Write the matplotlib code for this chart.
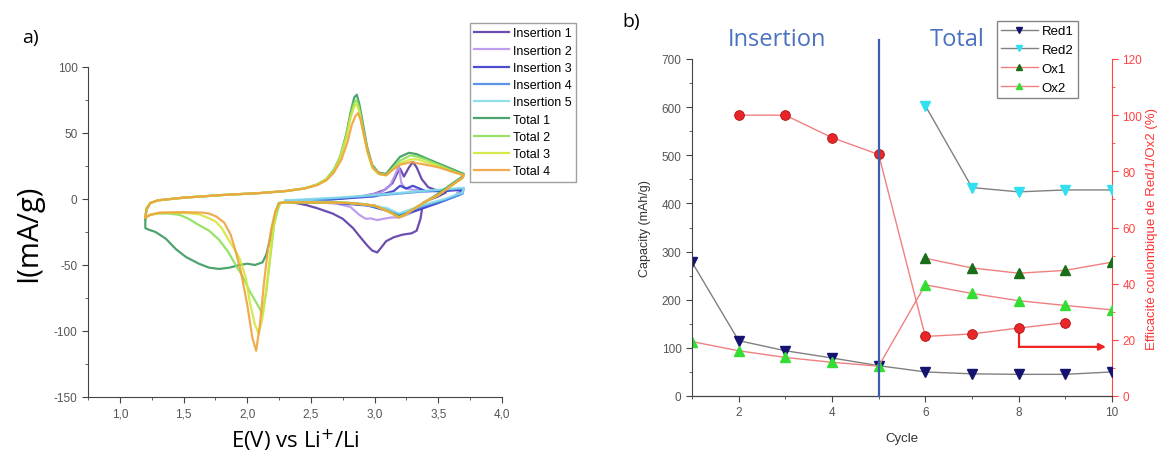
import matplotlib
matplotlib.use("Agg")
import matplotlib.pyplot as plt
from matplotlib.ticker import MultipleLocator, FuncFormatter

plt.rcParams['font.family'] = ['Liberation Sans', 'DejaVu Sans']

# ---------------- Panel a) : cyclic voltammograms ----------------
ins1_E = [2.30, 2.50, 2.70, 2.90, 3.00, 3.08, 3.14, 3.18, 3.20, 3.23, 3.27, 3.30, 3.33, 3.37, 3.42, 3.50, 3.56,
          3.50, 3.42, 3.38, 3.36, 3.33, 3.29, 3.22, 3.15, 3.09, 3.05, 3.02, 2.98, 2.94, 2.88, 2.83, 2.75, 2.67,
          2.55, 2.46, 2.38, 2.30]
ins1_I = [-2, -1, 0, 2, 4, 7, 12, 20, 23, 17, 24, 28, 24, 15, 9, 6, 5,
          2, -1, -3, -15, -24, -26, -27, -29, -32, -37, -40.5, -39, -35, -28, -22, -15, -11,
          -7, -4.5, -3, -2]

ins2_E = [2.30, 2.60, 2.90, 3.05, 3.12, 3.16, 3.19, 3.21, 3.24, 3.30, 3.40, 3.50, 3.60, 3.66,
          3.64, 3.55, 3.45, 3.35, 3.25, 3.19, 3.13, 3.07, 3.02, 2.97, 2.93, 2.88, 2.81, 2.70, 2.55, 2.40, 2.30]
ins2_I = [-2, -0.5, 2, 5, 10, 18, 25, 12, 8, 7, 6, 6, 7, 7,
          3, -1, -4, -8, -12, -14, -14, -15, -16, -14.7, -15, -12, -6, -3.5, -2.5, -2, -2]

ins3_E = [2.30, 2.70, 3.00, 3.15, 3.20, 3.25, 3.30, 3.40, 3.55, 3.68,
          3.66, 3.50, 3.35, 3.22, 3.10, 2.95, 2.70, 2.30]
ins3_I = [-2, 0, 2, 6, 10, 8, 10, 6, 6, 7,
          3, -3, -8, -12, -9, -5, -3, -2]

ins4_E = [2.30, 2.70, 3.00, 3.30, 3.50, 3.70, 3.69, 3.55, 3.40, 3.25, 3.19, 3.10, 2.90, 2.60, 2.30]
ins4_I = [-1.5, 0.5, 2.5, 5, 6.5, 8, 4, -1, -5, -10, -12, -8, -4, -2.5, -1.5]

ins5_E = [2.30, 2.70, 3.00, 3.30, 3.50, 3.70, 3.69, 3.55, 3.40, 3.25, 3.19, 3.10, 2.90, 2.60, 2.30]
ins5_I = [-1, 1, 3, 5.5, 7, 8.5, 5, 0, -4, -9, -11, -7, -3.5, -2, -1]

tot1_E = [1.20, 1.21, 1.24, 1.30, 1.50, 1.80, 2.10, 2.30, 2.45, 2.55, 2.62, 2.68, 2.73, 2.78, 2.81, 2.84,
          2.86, 2.88, 2.91, 2.94, 2.98, 3.03, 3.09, 3.14, 3.20, 3.27, 3.33, 3.40, 3.50, 3.60, 3.70,
          3.69, 3.60, 3.50, 3.40, 3.30, 3.24, 3.19, 3.12, 3.00, 2.80, 2.50, 2.30, 2.25, 2.24, 2.22, 2.18,
          2.15, 2.12, 2.06, 2.00, 1.94, 1.86, 1.78, 1.70, 1.62, 1.52, 1.44, 1.36, 1.28, 1.22, 1.20, 1.20]
tot1_I = [-15, -8, -3, -1, 1, 3, 4.5, 6, 8, 11, 15, 22, 32, 50, 65, 77,
          79, 72, 56, 40, 26, 20, 19, 25, 32, 35, 34, 31, 27, 23, 19,
          17, 11, 4, -2, -8, -12, -13, -10, -5, -3, -2.5, -2.5, -3, -5, -12, -30,
          -42, -48, -50, -49, -50, -52, -53, -52, -49, -44, -38, -30, -25, -23, -22, -15]

tot2_E = [1.20, 1.21, 1.24, 1.30, 1.50, 1.80, 2.10, 2.30, 2.45, 2.55, 2.62, 2.68, 2.73, 2.78, 2.81, 2.84,
          2.86, 2.88, 2.91, 2.94, 2.98, 3.03, 3.09, 3.14, 3.20, 3.28, 3.34, 3.40, 3.50, 3.60, 3.70,
          3.69, 3.60, 3.50, 3.40, 3.30, 3.24, 3.19, 3.12, 3.00, 2.80, 2.50, 2.30, 2.26, 2.24, 2.21, 2.18,
          2.15, 2.12, 2.08, 2.02, 1.96, 1.91, 1.85, 1.78, 1.70, 1.62, 1.54, 1.47, 1.38, 1.30, 1.24, 1.20]
tot2_I = [-14, -7, -3, -1, 1, 3, 4.5, 6, 8, 11, 15, 22, 32, 49, 63, 73,
          75, 68, 53, 38, 25, 19, 18, 23, 29, 33, 32, 30, 26, 22, 18,
          16, 10, 3, -2, -8, -12, -14, -10, -5, -3, -2.5, -2.5, -3, -8, -20, -45,
          -70, -87, -80, -70, -58, -50, -40, -31, -24, -19.7, -15, -12, -11, -11, -12, -14]

tot3_E = [1.20, 1.21, 1.24, 1.30, 1.50, 1.80, 2.10, 2.30, 2.45, 2.55, 2.62, 2.68, 2.73, 2.78, 2.81, 2.84,
          2.86, 2.88, 2.91, 2.94, 2.98, 3.03, 3.09, 3.14, 3.20, 3.28, 3.34, 3.40, 3.50, 3.60, 3.70,
          3.69, 3.60, 3.50, 3.40, 3.30, 3.24, 3.19, 3.12, 3.00, 2.80, 2.50, 2.30, 2.26, 2.23, 2.20, 2.16,
          2.12, 2.09, 2.06, 2.02, 1.99, 1.94, 1.90, 1.86, 1.80, 1.75, 1.70, 1.62, 1.50, 1.35, 1.25, 1.20]
tot3_I = [-14, -7, -3, -1, 1, 3, 4.5, 6, 8, 11, 15, 21, 31, 47, 61, 70,
          72, 66, 51, 37, 24, 19, 18, 22, 27, 30, 30, 28, 25, 21, 18,
          16, 10, 3, -2, -8, -12, -14, -10, -5, -3, -2.5, -2.5, -3, -8, -25, -60,
          -90, -102, -95, -78, -60, -45, -38, -32, -22, -17, -14.6, -11.5, -10.5, -10.5, -11.5, -14]

tot4_E = [1.20, 1.21, 1.24, 1.30, 1.50, 1.80, 2.10, 2.30, 2.45, 2.55, 2.62, 2.68, 2.74, 2.79, 2.82, 2.85,
          2.87, 2.89, 2.92, 2.95, 2.99, 3.04, 3.09, 3.14, 3.20, 3.29, 3.34, 3.40, 3.50, 3.60, 3.70,
          3.69, 3.60, 3.50, 3.40, 3.30, 3.24, 3.19, 3.12, 3.00, 2.80, 2.50, 2.30, 2.25, 2.22, 2.19, 2.16,
          2.13, 2.10, 2.07, 2.04, 2.00, 1.95, 1.91, 1.87, 1.82, 1.76, 1.70, 1.65, 1.50, 1.31, 1.24, 1.20]
tot4_I = [-14, -7, -3, -1, 1, 3, 4.5, 6, 8, 10.5, 14, 20, 30, 44, 56, 63,
          65, 60, 47, 34, 23, 19, 18, 22, 26, 28, 27, 26, 24, 21, 18,
          16, 10, 3, -2, -8, -12, -14, -10, -5, -3, -2.5, -2.5, -3.3, -9.5, -22, -40,
          -65, -95, -115, -105, -80, -55, -40, -27, -18, -13.4, -11, -10.3, -10, -10.3, -12, -14]

cv_labels = ['Insertion 1', 'Insertion 2', 'Insertion 3', 'Insertion 4', 'Insertion 5',
             'Total 1', 'Total 2', 'Total 3', 'Total 4']
cv_E = [ins1_E, ins2_E, ins3_E, ins4_E, ins5_E, tot1_E, tot2_E, tot3_E, tot4_E]
cv_I = [ins1_I, ins2_I, ins3_I, ins4_I, ins5_I, tot1_I, tot2_I, tot3_I, tot4_I]
cv_colors = ['#5b3aa8', '#b794ec', '#3a3ac8', '#4a8ae6', '#86dcea',
             '#3a9a5c', '#8ce05a', '#d4e63c', '#f0a23e']

# ---------------- Panel b) : capacities per cycle ----------------
cycles = [1, 2, 3, 4, 5, 6, 7, 8, 9, 10]
red1 = [278, 115, 94, 79, 63, 50, 46, 45, 45, 50]
red2_cycles = [6, 7, 8, 9, 10]
red2 = [603, 433, 424, 428, 428]
ox1_cycles = [6, 7, 8, 9, 10]
ox1 = [286, 266, 255, 261, 278]
ox2 = [113, 94, 80, 70, 62, 231, 213, 198, 188, 179]
eff_cycles = [2, 3, 4, 5, 6, 7, 8, 9]
eff = [100, 100, 92, 86, 21.2, 22.1, 24.2, 26.1]

W, H = 1159, 456
fig = plt.figure(figsize=(W / 100, H / 100), dpi=100)

def fbox(x0, y0, x1, y1):
    return [x0 / W, 1 - y1 / H, (x1 - x0) / W, (y1 - y0) / H]

# ---- panel a
ax = fig.add_axes(fbox(88, 68, 502, 398))
for E, I, c, lab in zip(cv_E, cv_I, cv_colors, cv_labels):
    ax.plot(E, I, color=c, lw=1.6, label=lab, alpha=0.9, solid_joinstyle='round')
ax.set_xlim(0.75, 4.0)
ax.set_ylim(-150, 100)
ax.xaxis.set_major_locator(MultipleLocator(0.5))
ax.xaxis.set_minor_locator(MultipleLocator(0.25))
ax.yaxis.set_major_locator(MultipleLocator(50))
ax.yaxis.set_minor_locator(MultipleLocator(25))
ax.xaxis.set_major_formatter(FuncFormatter(lambda v, p: f"{v:.1f}".replace('.', ',')))
ax.yaxis.set_major_formatter(FuncFormatter(lambda v, p: f"{int(round(v))}"))
for s in ['top', 'right']:
    ax.spines[s].set_visible(False)
for s in ['left', 'bottom']:
    ax.spines[s].set_color('#444444')
ax.tick_params(which='major', direction='out', length=4, color='#444444', labelsize=8.5, labelcolor='#555555')
ax.tick_params(which='minor', direction='out', length=2.5, color='#444444')
ax.set_ylabel('I(mA/g)', fontsize=21, family=['Open Sans', 'DejaVu Sans'], labelpad=8)
ax.set_xlabel('E(V) vs Li$^{+}$/Li', fontsize=16, family=['Open Sans', 'DejaVu Sans'], labelpad=5)
leg = ax.legend(loc='upper left', bbox_to_anchor=(470 / W, 1 - 24 / H), bbox_transform=fig.transFigure,
                fontsize=9, frameon=True, fancybox=False, handlelength=2.8, handletextpad=0.3,
                labelspacing=0.42, borderpad=0.35, borderaxespad=0)
leg.get_frame().set_edgecolor('#888888')
leg.get_frame().set_linewidth(1.0)
fig.text(22 / W, 1 - 38 / H, 'a)', fontsize=14, family=['Open Sans', 'DejaVu Sans'], va='center')

# ---- panel b
bx = fig.add_axes(fbox(692, 60, 1112, 397))
bx2 = bx.twinx()
bx.set_zorder(bx2.get_zorder() + 1)
bx.patch.set_visible(False)

bx2.plot(eff_cycles, eff, color='#f08080', lw=1.0, marker='o', ms=7,
         mfc='#e8262a', mec='#b01010', mew=0.6, zorder=3)
bx2.plot([8, 8], [eff[6], 17.5], color='#ee2222', lw=1.6)
bx2.annotate('', xy=(9.93, 17.5), xytext=(7.98, 17.5),
             arrowprops=dict(arrowstyle='-|>', color='#ee2222', lw=1.6, mutation_scale=10))
bx2.set_ylim(0, 120)
bx2.set_xlim(1, 10)
bx2.yaxis.set_major_locator(MultipleLocator(20))
bx2.yaxis.set_minor_locator(MultipleLocator(10))
bx2.spines['right'].set_color('#ff4444')
bx2.spines['top'].set_visible(False)
bx2.spines['left'].set_visible(False)
bx2.tick_params(axis='y', which='major', colors='#ff4444', direction='out', length=4, labelsize=8.5)
bx2.tick_params(axis='y', which='minor', colors='#ff4444', direction='out', length=2.5)
bx2.set_ylabel('Efficacité coulombique de Red/1/Ox2 (%)', color='#ff3333', fontsize=9.5, labelpad=3)

bx.plot(cycles, red1, color='#808080', lw=1.0, marker='v', ms=6.5, mfc='#141470', mec='#141470', label='Red1')
bx.plot(red2_cycles, red2, color='#808080', lw=1.0, marker='v', ms=6.5, mfc='#30e0f0', mec='#30e0f0', label='Red2')
bx.plot(ox1_cycles, ox1, color='#f08080', lw=1.0, marker='^', ms=6.5, mfc='#1a6e1a', mec='#1a6e1a', label='Ox1')
bx.plot(cycles, ox2, color='#f08080', lw=1.0, marker='^', ms=6.5, mfc='#33dd33', mec='#33dd33', label='Ox2')
bx.axvline(5, ymin=0, ymax=1.055, color='#3a5fb0', lw=1.6, clip_on=False, zorder=5)
bx.set_xlim(1, 10)
bx.set_ylim(0, 700)
bx.xaxis.set_major_locator(MultipleLocator(2))
bx.xaxis.set_minor_locator(MultipleLocator(1))
bx.yaxis.set_major_locator(MultipleLocator(100))
bx.yaxis.set_minor_locator(MultipleLocator(50))
bx.spines['top'].set_visible(False)
bx.spines['right'].set_visible(False)
for s in ['left', 'bottom']:
    bx.spines[s].set_color('#444444')
bx.tick_params(which='major', direction='out', length=4, color='#444444', labelsize=8.5, labelcolor='#555555')
bx.tick_params(which='minor', direction='out', length=2.5, color='#444444')
bx.set_xlabel('Cycle', fontsize=9.5, color='#333333', labelpad=10)
bx.set_ylabel('Capacity (mAh/g)', fontsize=9, color='#333333', labelpad=8)
leg2 = bx.legend(loc='upper left', bbox_to_anchor=(997 / W, 1 - 22 / H), bbox_transform=fig.transFigure,
                 fontsize=9.5, frameon=True, fancybox=False, handlelength=2.8, handletextpad=0.3,
                 labelspacing=0.5, borderpad=0.3, borderaxespad=0, markerscale=0.75)
leg2.get_frame().set_edgecolor('#666666')
leg2.get_frame().set_linewidth(1.0)

fig.text(777 / W, 1 - 40 / H, 'Insertion', fontsize=17, color='#4a72c0', ha='center', va='center',
         family=['Open Sans', 'DejaVu Sans'])
fig.text(957 / W, 1 - 40 / H, 'Total', fontsize=17, color='#4a72c0', ha='center', va='center',
         family=['Open Sans', 'DejaVu Sans'])
fig.text(622 / W, 1 - 22 / H, 'b)', fontsize=14, family=['Open Sans', 'DejaVu Sans'], va='center')

fig.savefig('out.png', dpi=100)
